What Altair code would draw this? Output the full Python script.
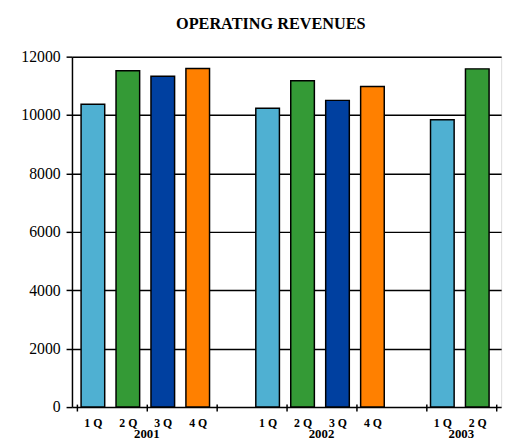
import altair as alt
import pandas as pd

# ---- data ----
years = ["2001", "2001", "2001", "2001", "2002", "2002", "2002", "2002", "2003", "2003"]
quarters = ["1 Q", "2 Q", "3 Q", "4 Q", "1 Q", "2 Q", "3 Q", "4 Q", "1 Q", "2 Q"]
revenues = [10370, 11515, 11326, 11596, 10234, 11178, 10503, 10975, 9843, 11582]
quarter_colors = ["#4FB0D2", "#349A36", "#0040A0", "#FF8000"]
y_ticks = [0, 2000, 4000, 6000, 8000, 10000, 12000]
title_text = "OPERATING REVENUES"

# slot index: each year occupies its quarters, followed by one empty slot
slots = []
s = 0
prev = None
for yr in years:
    if prev is not None and yr != prev:
        s += 1  # gap slot between years
    slots.append(s)
    s += 1
    prev = yr
n_slots = s

df = pd.DataFrame({"year": years, "quarter": quarters, "value": revenues,
                   "pos": [v + 0.5 for v in slots]})
yr_df = df.groupby("year", as_index=False)["pos"].mean()

W, H = 436, 356
xscale = alt.Scale(domain=[0, n_slots], nice=False, zero=False)
yscale = alt.Scale(domain=[0, 12000], nice=False)

bars = alt.Chart(df).mark_bar(width=24, stroke="black", strokeWidth=1.5, xOffset=-1.5).encode(
    x=alt.X("pos:Q", scale=xscale,
            axis=alt.Axis(values=list(range(n_slots + 1)), labels=False, domain=False, grid=False,
                          ticks=True, tickSize=7, tickColor="black", tickWidth=1.5, offset=-3, title=None)),
    y=alt.Y("value:Q", scale=yscale,
            axis=alt.Axis(values=y_ticks, format="d", grid=True, gridColor="black", gridWidth=1.5, gridOpacity=1,
                          domain=True, domainColor="black", domainWidth=1.5,
                          tickSize=6, tickColor="black", tickWidth=1.5,
                          labelFont="Liberation Sans Narrow", labelFontSize=16, labelColor="black",
                          labelPadding=6, title=None)),
    color=alt.Color("quarter:N", scale=alt.Scale(domain=["1 Q", "2 Q", "3 Q", "4 Q"], range=quarter_colors),
                    legend=None),
)

qlabels = alt.Chart(df).mark_text(font="Liberation Serif", fontWeight="bold", fontSize=12,
                                  baseline="alphabetic", align="center", dx=-1).encode(
    x=alt.X("pos:Q", scale=xscale),
    y=alt.value(H + 20),
    text="quarter:N",
)

ylabels = alt.Chart(yr_df).mark_text(font="Liberation Serif", fontWeight="bold", fontSize=13,
                                     baseline="alphabetic", align="center").encode(
    x=alt.X("pos:Q", scale=xscale),
    y=alt.value(H + 31),
    text="year:N",
)

title = alt.Chart(pd.DataFrame({"t": [title_text]})).mark_text(
    font="Liberation Serif", fontWeight="bold", fontSize=16.5, baseline="alphabetic", align="center"
).encode(x=alt.value(202), y=alt.value(-28.5), text="t:N")

chart = alt.layer(bars, qlabels, ylabels, title).properties(
    width=W, height=H,
    autosize=alt.AutoSizeParams(type="none"),
    padding={"left": 65, "top": 46, "right": 9, "bottom": 30},
).configure_view(stroke=None).configure(background="white")

chart.save("out.html", embed_options={"renderer": "svg", "actions": False})
